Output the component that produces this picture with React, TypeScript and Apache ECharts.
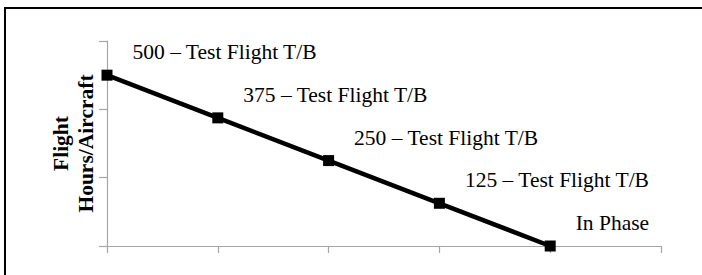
import React, { useEffect, useRef } from "react";
import * as echarts from "echarts";

const categories = ["P1", "P2", "P3", "P4", "P5", "P6"];
const hours = [500, 375, 250, 125, 0];
const pointLabels = [
  "500 – Test Flight T/B",
  "375 – Test Flight T/B",
  "250 – Test Flight T/B",
  "125 – Test Flight T/B",
  "In Phase",
];
const yAxisTitle = "Flight\nHours/Aircraft";

export default function App() {
  const ref = useRef<HTMLDivElement>(null);
  useEffect(() => {
    if (!ref.current) return;
    const chart = echarts.init(ref.current, null, { renderer: "svg" });
    const axisColor = "#a6a6a6";
    chart.setOption({
      animation: false,
      backgroundColor: "#ffffff",
      textStyle: { fontFamily: "Liberation Serif" },
      graphic: [
        {
          type: "rect",
          shape: { x: 5, y: 8, width: 760, height: 320 },
          style: { fill: "none", stroke: "#000", lineWidth: 2 },
          silent: true,
          z: 0,
        },
      ],
      grid: { left: 107, right: 41, top: 41, bottom: 29, containLabel: false },
      xAxis: {
        type: "category",
        data: categories,
        boundaryGap: false,
        axisLine: { lineStyle: { color: axisColor, width: 1.2 } },
        axisTick: { show: true, length: 7, interval: 0, lineStyle: { color: axisColor, width: 1.2 } },
        axisLabel: { show: false },
        splitLine: { show: false },
      },
      yAxis: {
        type: "value",
        min: 0,
        max: 600,
        interval: 200,
        name: yAxisTitle,
        nameLocation: "middle",
        nameRotate: 90,
        nameGap: 9,
        nameTextStyle: {
          fontFamily: "Liberation Serif",
          fontWeight: "bold",
          fontSize: 21.5,
          lineHeight: 25,
          color: "#000",
          align: "center",
        },
        axisLine: { show: true, lineStyle: { color: axisColor, width: 1.2 } },
        axisTick: { show: true, length: 8, lineStyle: { color: axisColor, width: 1.2 } },
        axisLabel: { show: false },
        splitLine: { show: false },
      },
      series: [
        {
          type: "line",
          data: hours,
          symbol: "rect",
          symbolSize: 11,
          lineStyle: { color: "#000", width: 4.5 },
          itemStyle: { color: "#000" },
          label: {
            show: true,
            position: "right",
            distance: 20,
            offset: [0, -23],
            formatter: (p: any) => pointLabels[p.dataIndex],
            fontFamily: "Liberation Serif",
            fontSize: 21.5,
            color: "#000",
          },
        },
      ],
    });
    return () => chart.dispose();
  }, []);
  return <div ref={ref} style={{ width: 702, height: 275, position: "absolute", left: 0, top: 0 }} />;
}
